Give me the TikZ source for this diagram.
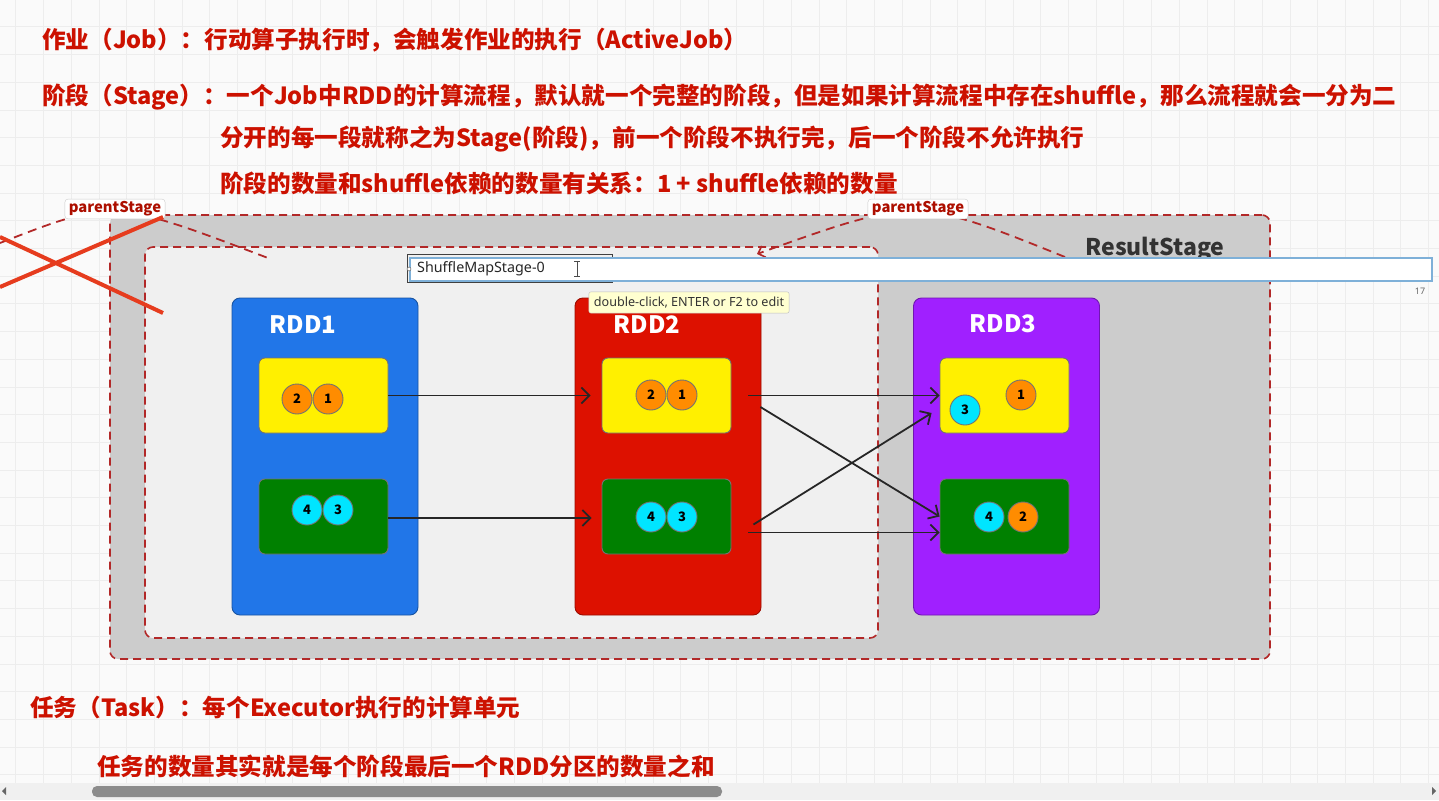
\documentclass[tikz,border=0pt]{standalone}
\usepackage{fontspec}
\setmainfont{Noto Sans CJK SC}
\newfontfamily\uifont{Noto Sans}
\usepackage{xcolor}
\usetikzlibrary{arrows.meta,positioning,calc}
\definecolor{notered}{RGB}{204,17,0}
\definecolor{dashred}{RGB}{178,40,40}
\definecolor{rddblue}{RGB}{33,118,232}
\definecolor{rddred}{RGB}{221,17,0}
\definecolor{rddpurple}{RGB}{160,32,255}
\definecolor{partyellow}{RGB}{255,240,0}
\definecolor{partgreen}{RGB}{0,128,0}
\definecolor{numorange}{RGB}{255,140,0}
\definecolor{numcyan}{RGB}{0,229,255}
\definecolor{crossred}{RGB}{230,60,30}
\definecolor{editblue}{RGB}{126,176,216}
\definecolor{tipyellow}{RGB}{255,255,208}

\begin{document}
\begin{tikzpicture}[x=1pt, y=-1pt,
  every node/.style={inner sep=0pt},
  note/.style={anchor=west, text=notered, font=\bfseries\fontsize{23.6}{28}\selectfont},
  stagebox/.style={draw=dashred, dash pattern=on 8pt off 5pt, line width=1.6pt, rounded corners=8pt},
  rdd/.style={draw=#1!70!black, fill=#1, line width=0.9pt, rounded corners=8pt, minimum width=186pt, minimum height=317pt},
  rddname/.style={text=white, font=\bfseries\fontsize{24}{24}\selectfont},
  part/.style={draw=black!55, fill=#1, line width=0.9pt, rounded corners=6pt, minimum width=129pt, minimum height=75pt},
  num/.style={circle, draw=black!55, fill=#1, line width=0.9pt, minimum size=30pt, font=\bfseries\fontsize{13}{13}\selectfont},
  arr/.style={-{Straight Barb[length=8pt,width=16pt,line width=1.8pt]}, line width=1.8pt, draw=black!85},
  parent/.style={draw=black!20, fill=white, rounded corners=3pt, inner xsep=4pt, inner ysep=2.5pt, text=notered!85!black, font=\bfseries\fontsize{14.8}{15}\selectfont},
  link/.style={draw=dashred, dash pattern=on 9pt off 6pt, line width=1.8pt},
]
\useasboundingbox (0,0) rectangle (1439,800);
\clip (0,0) rectangle (1439,800);
\fill[black!2] (0,0) rectangle (1439,800);
\foreach \gx in {15.8,43.5,...,1439} \draw[black!7, line width=0.8pt] (\gx,0) -- (\gx,800);
\foreach \gy in {-0.9,26.8,...,800} \draw[black!7, line width=0.8pt] (0,\gy) -- (1439,\gy);

\node[note] (job) at (42,40) {作业（Job）：行动算子执行时，会触发作业的执行（ActiveJob）};
\node[note] (stage) at (42,97) {阶段（Stage）：一个Job中RDD的计算流程，默认就一个完整的阶段，但是如果计算流程中存在shuffle，那么流程就会一分为二};
\node[note] (stage2) at (220,139) {分开的每一段就称之为Stage(阶段)，前一个阶段不执行完，后一个阶段不允许执行};
\node[note] (stage3) at (220,183) {阶段的数量和shuffle依赖的数量有关系：1 + shuffle依赖的数量};
\node[note] (task) at (30,708) {任务（Task）：每个Executor执行的计算单元};
\node[note] (task2) at (97,766) {任务的数量其实就是每个阶段最后一个RDD分区的数量之和};

\node[stagebox, fill=black!20, minimum width=1160pt, minimum height=444pt] (result) at (690,437) {};
\node[stagebox, fill=black!6, minimum width=733pt, minimum height=391pt] (shuffle) at (511.5,442.5) {};
\node[font=\bfseries\fontsize{23}{23}\selectfont, text=black!80] (rslabel) at (1155,249) {ResultStage};

\coordinate (lfrom) at (0,243);
\coordinate (lto) at (268,258);
\draw[link] (lfrom) .. controls (113,199) .. (lto);
\node[parent] (lparent) at (115,209) {parentStage};
\coordinate (rfrom) at (1065,257);
\coordinate (rto) at (757,254);
\draw[link, -{Straight Barb[length=6pt,width=12pt,line width=1.6pt]}] (rfrom) .. controls (916,197) .. (rto);
\node[parent] (rparent) at (918,209) {parentStage};

\draw[crossred, line width=4pt] (0,237) -- (163,313);
\draw[crossred, line width=4pt] (0,287) -- (163,217);

\node[rdd=rddblue] (rdd1) at (325,456.5) {};
\node[rdd=rddred] (rdd2) at (668,456.5) {};
\node[rdd=rddpurple] (rdd3) at (1006.5,456.5) {};
\node[rddname] (rdd1name) at (303,325) {RDD1};
\node[rddname] (rdd2name) at (647,325) {RDD2};
\node[rddname] (rdd3name) at (1003,324) {RDD3};

\node[part=partyellow] (p11) at (323.5,395.5) {};
\node[part=partgreen] (p12) at (323.5,516.5) {};
\node[part=partyellow] (p21) at (666.5,395.5) {};
\node[part=partgreen] (p22) at (666.5,516.5) {};
\node[part=partyellow] (p31) at (1004.5,395.5) {};
\node[part=partgreen] (p32) at (1004.5,516.5) {};

\node[num=numorange] (n112) at (297,399) {2};
\node[num=numorange] (n111) at (328,399) {1};
\node[num=numcyan] (n124) at (307,510) {4};
\node[num=numcyan] (n123) at (338,510) {3};
\node[num=numorange] (n212) at (651,395) {2};
\node[num=numorange] (n211) at (682,395) {1};
\node[num=numcyan] (n224) at (651,517) {4};
\node[num=numcyan] (n223) at (682,517) {3};
\node[num=numorange] (n311) at (1021,395) {1};
\node[num=numcyan] (n313) at (965,410) {3};
\node[num=numcyan] (n324) at (989,517) {4};
\node[num=numorange] (n322) at (1023,517) {2};

\draw[arr, shorten >=11pt] (p11.east) -- (p21.west);
\draw[arr, shorten >=10pt] ([yshift=-1.5pt]p12.east) -- ([yshift=-1.5pt]p22.west);
\draw[arr] ([xshift=17pt]p21.east) -- (p31.west);
\draw[arr] ([xshift=29pt,yshift=-11.5pt]p21.east) -- (p32.west);
\draw[arr] ([xshift=22pt,yshift=-8pt]p22.east) -- ([xshift=-8pt,yshift=-17.5pt]p31.west);
\draw[arr] ([xshift=17pt,yshift=-16pt]p22.east) -- ([yshift=-16pt]p32.west);

\node[draw=black!75, line width=1pt, minimum width=205pt, minimum height=28pt] (seltag) at (509.5,268) {};
\node[draw=editblue, line width=1.4pt, fill=white, minimum width=1022pt, minimum height=23pt] (edit) at (921,269.5) {};
\node[circle, draw=black!70, fill=white, minimum size=4pt] (edithandle) at (409,269) {};
\node[anchor=west, font=\uifont\fontsize{14.3}{14.3}\selectfont, text=black!85] (edittext) at (417,269) {ShuffleMapStage-0};
\draw[black!70, line width=0.8pt] (577,261) -- (577,276) (574,261) -- (580,261) (574,276) -- (580,276);
\node[draw=black!25, fill=tipyellow, rounded corners=2pt, inner xsep=5pt, inner ysep=5pt, font=\uifont\fontsize{12.6}{12.6}\selectfont, text=black!80] (tip) at (689,302.5) {double-click, ENTER or F2 to edit};
\node[font=\uifont\fontsize{9}{9}\selectfont, text=black!60] (colnum) at (1420,291) {17};

\fill[black!6] (0,783) rectangle (1439,800);
\fill[black!45, rounded corners=5pt] (92,786) rectangle (722,797);
\fill[black!60] (6,787) -- (6,795) -- (2,791) -- cycle;
\fill[black!60] (1432,787) -- (1432,795) -- (1436,791) -- cycle;
\end{tikzpicture}
\end{document}
